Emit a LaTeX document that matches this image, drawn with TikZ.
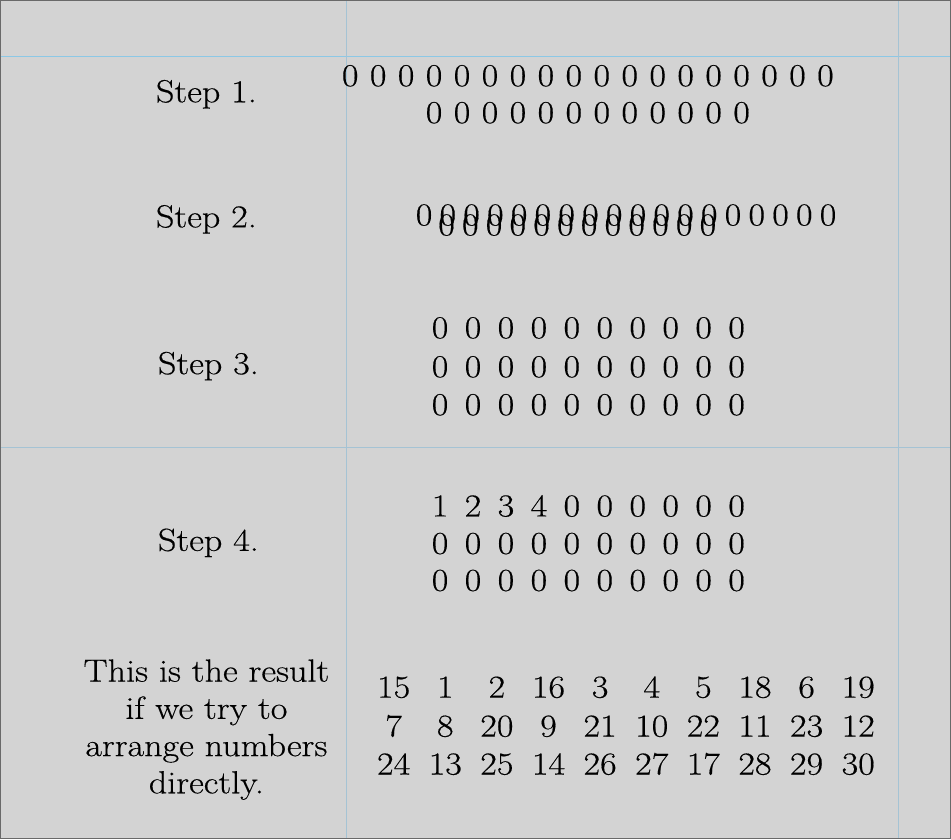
\documentclass[tikz,border=0pt]{standalone}
\usepackage{fontspec}
\setmainfont{Latin Modern Roman}[Ligatures=TeX, FakeStretch=1.13, FakeBold=0.4]
\begin{document}
\begin{tikzpicture}[x=1pt,y=-1pt,
    every node/.style={font=\fontsize{32}{37.3}\selectfont, inner sep=0pt},
    steplabel/.style={anchor=base},
    digit/.style={anchor=base}]
    \definecolor{mybg}{RGB}{211,211,211}
    \definecolor{myborder}{RGB}{105,105,105}
    \definecolor{myguide1}{RGB}{140,200,230}
    \definecolor{myguide2}{RGB}{165,195,212}

    \fill[mybg] (0,0) rectangle (951,839);
    \draw[myguide1, line width=1pt] (0,56) -- (951,56);
    \draw[myguide2, line width=0.8pt] (0,447) -- (951,447);
    \draw[myguide2, line width=0.8pt] (346,0) -- (346,839);
    \draw[myguide2, line width=0.8pt] (899,0) -- (899,839);
    \draw[myborder, line width=1.5pt] (0,0) rectangle (951,839);

    % left column
    \node[steplabel] (step1) at (206,101.7) {Step 1.};
    \node[steplabel] (step2) at (206,227) {Step 2.};
    \node[steplabel] (step3) at (208,374) {Step 3.};
    \node[steplabel] (step4) at (208,551) {Step 4.};
    \node[anchor=north, align=center] (result) at (206,659.5)
        {This is the result\\if we try to\\arrange numbers\\directly.};

    % step 1
    \foreach \i in {0,1,...,17} {
        \pgfmathsetmacro{\xx}{350 + \i*28}
        \node[digit] (sa\i) at (\xx,85.5) {0};
    }
    \foreach \i in {0,1,...,11} {
        \pgfmathsetmacro{\xx}{434 + \i*28}
        \node[digit] (sb\i) at (\xx,122.5) {0};
    }

    % step 2
    \foreach \i in {0,1,...,17} {
        \pgfmathsetmacro{\xx}{424 + \i*23.8}
        \node[digit] (ta\i) at (\xx,225) {0};
    }
    \foreach \i in {0,1,...,11} {
        \pgfmathsetmacro{\xx}{446.5 + \i*23.8}
        \node[digit] (tb\i) at (\xx,235) {0};
    }

    % step 3
    \foreach \r/\yy in {0/338,1/377,2/415} {
        \foreach \i in {0,1,...,9} {
            \pgfmathsetmacro{\xx}{440 + \i*33}
            \node[digit] (u\r\i) at (\xx,\yy) {0};
        }
    }

    % step 4
    \foreach \r/\yy/\vals in {0/516.5/{1,2,3,4,0,0,0,0,0,0},
                              1/554/{0,0,0,0,0,0,0,0,0,0},
                              2/591/{0,0,0,0,0,0,0,0,0,0}} {
        \foreach \v [count=\i from 0] in \vals {
            \pgfmathsetmacro{\xx}{440 + \i*33}
            \node[digit] (w\r\i) at (\xx,\yy) {\v};
        }
    }

    % direct result
    \foreach \r/\yy/\vals in {0/698/{15,1,2,16,3,4,5,18,6,19},
                              1/737/{7,8,20,9,21,10,22,11,23,12},
                              2/775/{24,13,25,14,26,27,17,28,29,30}} {
        \foreach \v [count=\i from 0] in \vals {
            \pgfmathsetmacro{\xx}{393.5 + \i*51.7}
            \node[digit] (g\r\i) at (\xx,\yy) {\v};
        }
    }
\end{tikzpicture}
\end{document}
